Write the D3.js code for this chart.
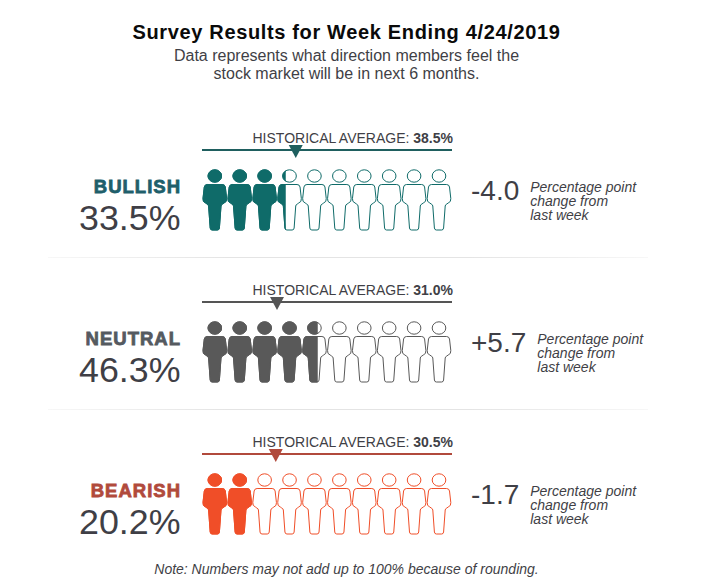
<!DOCTYPE html>
<html lang="en">
<head>
<meta charset="utf-8">
<style>
  html, body { margin: 0; padding: 0; background: #fff; }
  svg { display: block; }
  text { font-family: "Liberation Sans", Arial, sans-serif; }
</style>
</head>
<body>
<script src="https://cdn.jsdelivr.net/npm/d3@7"></script>
<script>
// chart values
const categories = ["BULLISH", "NEUTRAL", "BEARISH"];
const percents = [33.5, 46.3, 20.2];
const historical = [38.5, 31.0, 30.5];
const changes = ["-4.0", "+5.7", "-1.7"];
const noteLines = ["Percentage point", "change from", "last week"];
const colors = ["#0f6b69", "#595959", "#f04e28"];
const lineColors = ["#1f5f5f", "#555555", "#b14a3c"];
const labelColors = ["#1f5f6b", "#555a60", "#b14a3c"];

const width = 702, height = 586;
const textColor = "#3f3f46";

const svg = d3.select("body").append("svg")
  .attr("width", width)
  .attr("height", height);

// title block
svg.append("text").attr("x", 346.5).attr("y", 39)
  .attr("text-anchor", "middle")
  .attr("font-size", 20).attr("font-weight", "bold").attr("fill", "#0a0a0a")
  .attr("letter-spacing", 0.65)
  .text("Survey Results for Week Ending 4/24/2019");
svg.append("text").attr("x", 346.5).attr("y", 60.5)
  .attr("text-anchor", "middle").attr("font-size", 16).attr("fill", textColor)
  .text("Data represents what direction members feel the");
svg.append("text").attr("x", 346.5).attr("y", 78.5)
  .attr("text-anchor", "middle").attr("font-size", 16).attr("fill", textColor)
  .text("stock market will be in next 6 months.");

svg.append("text").attr("x", 346.5).attr("y", 574)
  .attr("text-anchor", "middle").attr("font-size", 14)
  .attr("font-style", "italic").attr("fill", textColor)
  .text("Note: Numbers may not add up to 100% because of rounding.");

// scales
const x = d3.scaleLinear().domain([0, 100]).range([202, 452]);
const person = d3.scalePoint().domain(d3.range(10)).range([214.8, 439]);
const rowY = d3.scalePoint().domain(categories).range([150, 454]);

// person outline, origin at the centre of the head
const bodyPath = "M-7.5,8.5 L7.5,8.5 Q10,8.5 10.5,11 L11.8,22.5 Q12.2,26 9.2,27 L7.8,28 Q6.4,28.6 6.2,30 L4.6,52 Q4.4,54 2.6,54 L-2.6,54 Q-4.4,54 -4.6,52 L-6.2,30 Q-6.4,28.6 -7.8,28 L-9.2,27 Q-12.2,26 -11.8,22.5 L-10.5,11 Q-10,8.5 -7.5,8.5 Z";

function drawPerson(g, cx, cy, fill, stroke) {
  const p = g.append("g").attr("transform", `translate(${cx},${cy})`);
  p.append("ellipse").attr("rx", 6.8).attr("ry", 6.2)
    .attr("fill", fill).attr("stroke", stroke).attr("stroke-width", 1);
  p.append("path").attr("d", bodyPath)
    .attr("fill", fill).attr("stroke", stroke).attr("stroke-width", 1);
}

categories.forEach((cat, i) => {
  const y0 = rowY(cat);
  const row = svg.append("g");

  // historical average
  const avg = row.append("text").attr("x", 453).attr("y", y0 - 7)
    .attr("text-anchor", "end").attr("font-size", 14).attr("fill", textColor);
  avg.append("tspan").text("HISTORICAL AVERAGE: ");
  avg.append("tspan").attr("font-weight", "bold")
    .text(d3.format(".1f")(historical[i]) + "%");

  row.append("line")
    .attr("x1", x(0)).attr("x2", x(100))
    .attr("y1", y0).attr("y2", y0)
    .attr("stroke", lineColors[i]).attr("stroke-width", 2);

  const mx = x(historical[i]) - 2.5;
  row.append("path")
    .attr("d", `M${mx - 7},${y0 - 5} L${mx + 7},${y0 - 5} L${mx},${y0 + 8} Z`)
    .attr("fill", lineColors[i]);

  // pictogram: outlines first, then the filled share clipped to the percent
  const clipId = "clip-" + cat;
  row.append("clipPath").attr("id", clipId).append("rect")
    .attr("x", x(0)).attr("y", y0)
    .attr("width", x(percents[i]) - x(0)).attr("height", 100);

  const outlines = row.append("g");
  const filled = row.append("g").attr("clip-path", `url(#${clipId})`);
  d3.range(10).forEach(k => {
    drawPerson(outlines, person(k), y0 + 26, "#fff", colors[i]);
    drawPerson(filled, person(k), y0 + 26, colors[i], colors[i]);
  });

  // left labels
  row.append("text").attr("x", 181).attr("y", y0 + 42.5)
    .attr("text-anchor", "end")
    .attr("font-size", 18.5).attr("font-weight", "bold")
    .attr("letter-spacing", 1)
    .attr("fill", labelColors[i]).attr("stroke", labelColors[i]).attr("stroke-width", 0.8)
    .text(cat);
  row.append("text").attr("x", 180.5).attr("y", y0 + 80)
    .attr("text-anchor", "end").attr("font-size", 35.8).attr("fill", textColor)
    .text(percents[i].toFixed(1) + "%");

  // change from last week
  const changeText = row.append("text").attr("x", 471).attr("y", y0 + 50)
    .attr("font-size", 28).attr("fill", textColor)
    .text(changes[i]);
  const noteX = 471 + changeText.node().getComputedTextLength() + 11;
  const note = row.append("text").attr("y", y0 + 42)
    .attr("font-size", 14).attr("font-style", "italic").attr("fill", textColor);
  noteLines.forEach((line, n) => {
    note.append("tspan").attr("x", noteX).attr("dy", n ? 14 : 0).text(line);
  });
});

// faint separators between the rows
const sepGrad = svg.append("defs").append("linearGradient").attr("id", "sep");
sepGrad.append("stop").attr("offset", "0%").attr("stop-color", "#e4e4e4").attr("stop-opacity", 0.3);
sepGrad.append("stop").attr("offset", "30%").attr("stop-color", "#e4e4e4");
sepGrad.append("stop").attr("offset", "70%").attr("stop-color", "#e4e4e4");
sepGrad.append("stop").attr("offset", "100%").attr("stop-color", "#e4e4e4").attr("stop-opacity", 0.3);
categories.slice(0, 2).forEach(cat => {
  svg.append("rect").attr("x", 48).attr("width", 600)
    .attr("y", rowY(cat) + 107).attr("height", 1)
    .attr("fill", "url(#sep)");
});
</script>
</body>
</html>
